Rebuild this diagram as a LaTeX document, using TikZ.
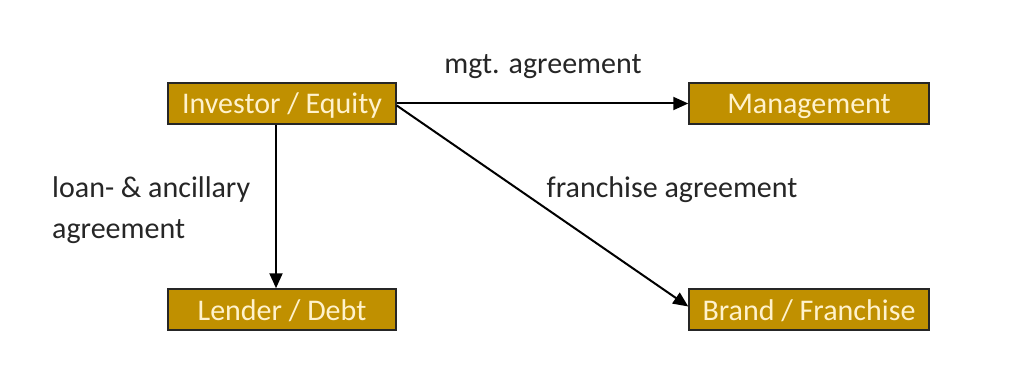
\documentclass[tikz,border=0pt]{standalone}
\usepackage{fontspec}
\setmainfont{Carlito}
\usetikzlibrary{arrows.meta}
\definecolor{boxfill}{HTML}{C09000}
\definecolor{boxtext}{HTML}{FFF2CC}
\definecolor{labtext}{HTML}{262626}
\begin{document}
\begin{tikzpicture}[x=1pt,y=-1pt,
  box/.style={draw=black!85, line width=1.5pt, fill=boxfill, text=boxtext,
    minimum width=228pt, minimum height=41pt, inner sep=0pt,
    text height=24pt, text depth=3pt,
    font=\fontsize{30}{34}\selectfont},
  lab/.style={text=labtext, font=\fontsize{30}{34}\selectfont, inner sep=0pt},
  conn/.style={line width=2pt, draw=black, -{Triangle[length=15pt,width=13pt]}}]
\useasboundingbox (0,0) rectangle (1024,374);
\fill[white] (0,0) rectangle (1024,374);
\node[box] (inv) at (282,103.5) {Investor / Equity};
\node[box, minimum width=240pt] (mgt) at (809,103.5) {Management};
\node[box] (lend) at (282,309.5) {Lender / Debt};
\node[box, minimum width=240pt] (brand) at (809,309.5) {Brand / Franchise};
\draw[conn] (inv.east) -- (mgt.west);
\draw[conn] ([yshift=-2pt]inv.east) -- ([yshift=3pt]brand.west);
\draw[conn] ([xshift=-6pt]inv.south) -- ([xshift=-6pt]lend.north);
\node[lab] (l1) at (543,67) {mgt. agreement};
\node[lab] (l2) at (672,190) {franchise agreement};
\node[lab, anchor=west] (l3) at (52,190) {loan- \& ancillary};
\node[lab, anchor=west] (l4) at (52,232) {agreement};
\end{tikzpicture}
\end{document}
